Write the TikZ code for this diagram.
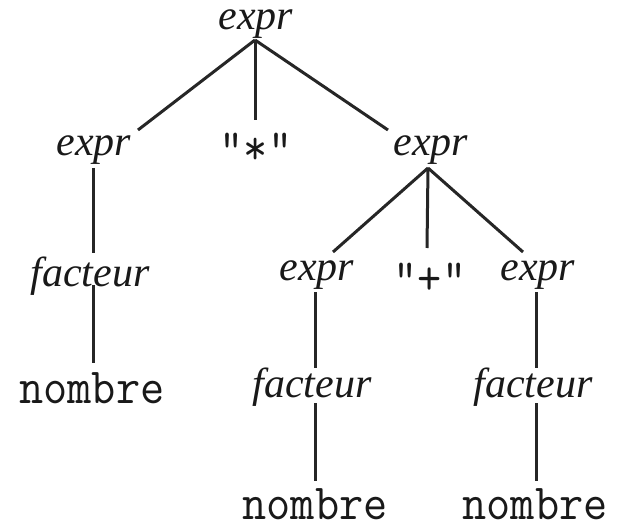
\documentclass[tikz,border=0pt]{standalone}
\usepackage{fontspec}
\setmainfont{Liberation Serif}
\usepackage{graphicx}
\newcommand\ntext[1]{{\fontsize{42}{50}\selectfont\itshape #1}}
\newcommand\ttext[1]{\scalebox{1.02}[1.1]{\fontsize{46}{54}\selectfont\ttfamily #1}}
\tikzset{
  lbl/.style={inner sep=0pt, text=black!90},
  edge/.style={draw=black!85, line width=3pt}
}
\begin{document}
\begin{tikzpicture}[x=1pt,y=-1pt]
\useasboundingbox (0,0) rectangle (619,524);
% level 0
\node[lbl] (root) at (256,24) {\ntext{expr}};
% level 1
\node[lbl] (e1) at (94,150) {\ntext{expr}};
\node[lbl] (star) at (256,149) {\ttext{"*"}};
\node[lbl] (e2) at (431,150) {\ntext{expr}};
% left subtree
\node[lbl] (f1) at (90,276) {\ntext{facteur}};
\node[lbl] (n1) at (92,388) {\ttext{nombre}};
% right subtree level 2
\node[lbl] (e3) at (317,275) {\ntext{expr}};
\node[lbl] (plus) at (430,279) {\ttext{"+"}};
\node[lbl] (e4) at (538,275) {\ntext{expr}};
\node[lbl] (f3) at (312,387) {\ntext{facteur}};
\node[lbl] (f4) at (533,387) {\ntext{facteur}};
\node[lbl] (n3) at (315,504) {\ttext{nombre}};
\node[lbl] (n4) at (535,504) {\ttext{nombre}};
% attachment points
\coordinate (root-b) at (255,40);
\coordinate (e1-t) at (138,130);
\coordinate (star-t) at (255,120);
\coordinate (e2-t) at (388,130);
\coordinate (e1-b) at (93,168);
\coordinate (f1-t) at (93,253);
\coordinate (f1-b) at (93,285);
\coordinate (n1-t) at (93,363);
\coordinate (e2-b) at (428,168);
\coordinate (e3-t) at (333,252);
\coordinate (plus-t) at (427,248);
\coordinate (e4-t) at (523,252);
\coordinate (e3-b) at (315,292);
\coordinate (f3-t) at (315,368);
\coordinate (f3-b) at (315,403);
\coordinate (n3-t) at (315,481);
\coordinate (e4-b) at (536,292);
\coordinate (f4-t) at (536,368);
\coordinate (f4-b) at (536,403);
\coordinate (n4-t) at (536,481);
% connectors
\draw[edge] (root-b) -- (e1-t);
\draw[edge] (root-b) -- (star-t);
\draw[edge] (root-b) -- (e2-t);
\draw[edge] (e1-b) -- (f1-t);
\draw[edge] (f1-b) -- (n1-t);
\draw[edge] (e2-b) -- (e3-t);
\draw[edge] (e2-b) -- (plus-t);
\draw[edge] (e2-b) -- (e4-t);
\draw[edge] (e3-b) -- (f3-t);
\draw[edge] (f3-b) -- (n3-t);
\draw[edge] (e4-b) -- (f4-t);
\draw[edge] (f4-b) -- (n4-t);
\end{tikzpicture}
\end{document}
